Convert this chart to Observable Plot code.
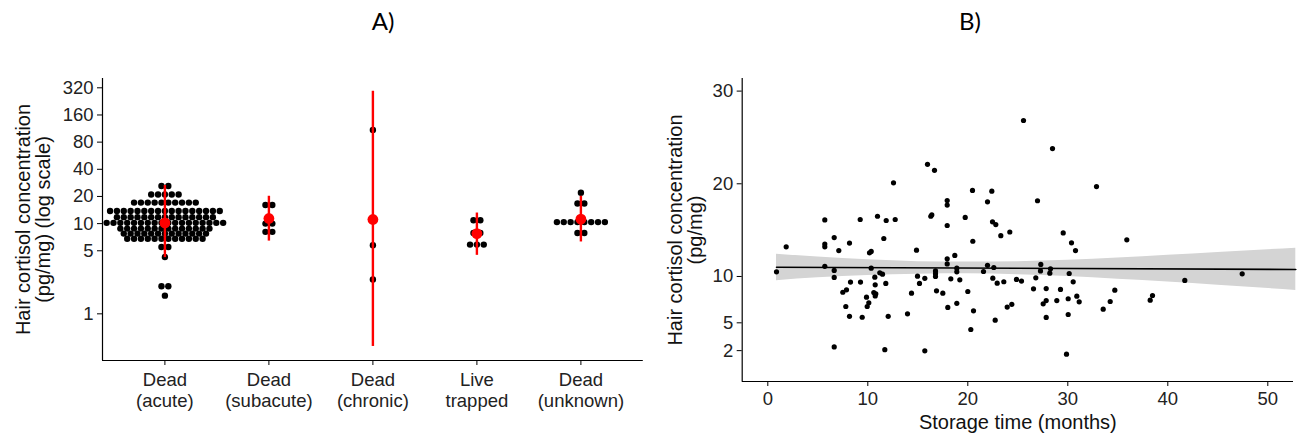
<!DOCTYPE html>
<html><head><meta charset="utf-8">
<script src="https://cdn.jsdelivr.net/npm/d3@7"></script>
<script src="https://cdn.jsdelivr.net/npm/@observablehq/plot@0.6"></script>
<style>
body{margin:0;background:#fff;}
#wrap{position:relative;width:1306px;height:437px;overflow:hidden;}
.ttl{position:absolute;top:6px;font-family:Lato,"Open Sans",sans-serif;font-size:24px;color:#000;transform:translateX(-50%);}
#pa{position:absolute;left:0;top:0}
#pb{position:absolute;left:650px;top:0}
</style></head><body>
<div id="wrap"><div class="ttl" style="left:383px">A)</div><div class="ttl" style="left:970px">B)</div><div id="pa"></div><div id="pb"></div></div>
<script>
// ---------- Panel A data ----------
const groups = ["Dead\n(acute)", "Dead\n(subacute)", "Dead\n(chronic)", "Live\ntrapped", "Dead\n(unknown)"];
// binned dot values [value (pg/mg), number of dots in the bin]
const acuteBins = [[26.1,2],[21.0,5],[17.1,10],[13.8,17],[11.8,15],[10.2,18],[8.8,14],[7.75,13],[6.8,12],[5.5,2],[4.26,1],[2.02,2],[1.59,1]];
const subacuteBins = [[16.1,2],[10.0,2],[8.1,2]];
const chronicBins = [[109,1],[5.75,1],[2.4,1]];
const liveBins = [[10.9,2],[7.87,2],[5.85,3]];
const unknownBins = [[22,1],[16.7,2],[10.4,8],[7.87,2]];
const groupMean = [10.2, 11.4, 11.1, 7.75, 11.2];
const groupLower = [4.2, 6.4, 0.435, 4.45, 6.26];
const groupUpper = [26.5, 20.1, 293, 13.1, 20.1];
const yTicksA = [1, 5, 10, 20, 40, 80, 160, 320];

// ---------- Panel B data ----------
const storageMonths = [0.87,1.84,5.7,5.7,5.7,5.7,6.64,7.1,6.64,6.64,6.64,8.17,7.5,7.87,8.27,7.8,8.17,9.24,9.27,9.44,9.87,9.94,10.1,10.17,10.34,10.34,10.7,10.74,10.6,10.8,10.74,10.97,11.6,11.2,11.47,11.8,11.84,12.04,11.7,12.57,12.74,13.97,14.37,14.87,14.97,15.17,15.7,15.7,15.97,16.67,16.4,16.3,16.77,16.77,16.77,16.87,17.5,17.94,17.94,17.94,17.94,17.94,18.0,18.3,18.7,18.9,18.9,18.9,19.2,19.74,20.0,20.3,20.47,20.5,20.57,21.57,21.97,21.97,22.4,22.47,22.8,22.6,22.5,22.94,22.74,23.3,23.6,24.2,23.94,24.4,24.87,25.37,25.57,26.57,26.8,26.97,27.3,27.27,28.27,28.2,28.47,27.84,27.54,27.84,27.84,28.9,29.27,29.54,30.14,30.04,30.04,29.87,30.37,30.77,30.54,30.9,31.14,32.87,33.54,34.24,34.7,35.9,38.24,38.47,41.7,47.44];
const cortisolB = [10.5,13.2,16.1,13.5,13.2,11.1,14.2,12.8,10.65,9.9,2.4,13.6,8.3,8.56,9.4,6.76,5.7,16.15,9.4,5.6,7.77,6.76,7.16,12.55,12.7,10.9,9.93,9.1,8.27,8.13,7.9,16.5,14.1,10.4,10.25,9.25,16.04,5.7,2.1,20.1,16.15,5.97,8.2,12.84,10.03,9.25,9.8,1.98,22.1,21.45,16.65,16.5,10.6,10.3,10.0,8.45,8.2,18.2,17.7,15.5,11.9,11.35,6.66,9.75,12.27,10.9,10.5,7.1,9.64,16.37,8.38,4.28,19.28,13.8,6.3,10.54,18.05,11.2,19.2,15.9,15.6,10.97,9.82,9.28,5.29,14.4,9.43,14.8,6.7,7.0,9.68,9.5,26.83,8.67,9.86,18.17,11.3,10.6,10.83,10.36,23.8,8.7,7.05,7.4,5.58,7.4,8.6,14.7,10.32,7.6,5.9,1.62,13.63,12.8,9.42,7.88,7.27,19.7,6.47,7.3,8.52,13.96,7.44,7.95,9.57,10.29];
const fitX = [0.87, 52.8];
const fitY = [11.0, 10.76];
const bandX  = [0.87, 5, 10, 15, 20, 25, 30, 35, 40, 45, 52.8];
const bandHi = [12.4, 12.1, 11.8, 11.6, 11.55, 11.6, 11.75, 12.0, 12.3, 12.6, 13.05];
const bandLo = [9.55, 9.85, 10.1, 10.25, 10.3, 10.2, 10.0, 9.7, 9.4, 9.05, 8.5];
const xTicksB = [0, 10, 20, 30, 40, 50];
const yTicksB = [2, 5, 10, 20, 30];

// ---------- build tables ----------
const binsByGroup = [acuteBins, subacuteBins, chronicBins, liveBins, unknownBins];
const dotsA = [];
binsByGroup.forEach((bins, gi) => bins.forEach(([v, n]) => {
  for (let k = 0; k < n; k++) dotsA.push({g: gi + 1, slot: k - (n - 1) / 2, v});
}));
const statsA = groups.map((name, i) => ({g: i + 1, mean: groupMean[i], lo: groupLower[i], hi: groupUpper[i]}));
const slotStep = 0.0659; // dot spacing in category units
const xDomA = [0.4, 5.6];
const yDomA = [0.304, 405.8];

const font = "'Liberation Sans', Arial, sans-serif";

const A = Plot.plot({
  width: 660, height: 437,
  marginLeft: 102, marginRight: 17.2, marginTop: 78, marginBottom: 77,
  style: {fontFamily: font, fontSize: "18.5px", color: "#222", background: "transparent"},
  x: {domain: xDomA},
  y: {type: "log", domain: yDomA},
  marks: [
    Plot.axisY(yTicksA, {text: d => String(d), tickSize: 5, tickPadding: 4, label: null, stroke: "#000"}),
    Plot.axisX([1, 2, 3, 4, 5], {text: i => groups[i - 1], tickSize: 5, tickPadding: 5, label: null, lineHeight: 1.15, stroke: "#000"}),
    Plot.ruleX([xDomA[0]], {stroke: "#000", strokeWidth: 1.2}),
    Plot.ruleY([yDomA[0]], {stroke: "#000", strokeWidth: 1.2}),
    Plot.dot(dotsA, {x: d => d.g + d.slot * slotStep, y: "v", r: 3.2, fill: "#000", stroke: "none"}),
    Plot.ruleX(statsA, {x: "g", y1: "lo", y2: "hi", stroke: "#ff0000", strokeWidth: 2.4}),
    Plot.dot(statsA, {x: "g", y: "mean", r: 5.4, fill: "#ff0000", stroke: "none"}),
    Plot.text(["Hair cortisol concentration\n(pg/mg) (log scale)"], {text: d => d, frameAnchor: "left", textAnchor: "middle", lineAnchor: "middle", rotate: -90, dx: -69, fontSize: 20, lineHeight: 1.0, fill: "#111"})
  ]
});
document.getElementById("pa").appendChild(A);

const pointsB = storageMonths.map((m, i) => ({m, c: cortisolB[i]}));
const fit = fitX.map((x, i) => ({x, y: fitY[i]}));
const band = bandX.map((x, i) => ({x, lo: bandLo[i], hi: bandHi[i]}));
const xDomB = [-2.56, 52.57];
const yDomB = [-1.33, 31.36];

const B = Plot.plot({
  width: 656, height: 437,
  marginLeft: 91.7, marginRight: 13, marginTop: 78, marginBottom: 56,
  style: {fontFamily: font, fontSize: "18.5px", color: "#222", background: "transparent"},
  x: {domain: xDomB},
  y: {domain: yDomB},
  marks: [
    Plot.areaY(band, {x: "x", y1: "lo", y2: "hi", fill: "#d4d4d4", curve: "monotone-x"}),
    Plot.line(fit, {x: "x", y: "y", stroke: "#000", strokeWidth: 1.6}),
    Plot.dot(pointsB, {x: "m", y: "c", r: 2.6, fill: "#000", stroke: "none"}),
    Plot.axisY(yTicksB, {text: d => String(d), tickSize: 5, tickPadding: 4, label: null, stroke: "#000"}),
    Plot.axisX(xTicksB, {text: d => String(d), tickSize: 5, tickPadding: 5, label: null, stroke: "#000"}),
    Plot.ruleX([xDomB[0]], {stroke: "#000", strokeWidth: 1.2}),
    Plot.ruleY([yDomB[0]], {stroke: "#000", strokeWidth: 1.2}),
    Plot.text(["Hair cortisol concentration\n(pg/mg)"], {text: d => d, frameAnchor: "left", textAnchor: "middle", lineAnchor: "middle", rotate: -90, dx: -56.7, fontSize: 20, lineHeight: 1.0, fill: "#111"}),
    Plot.text(["Storage time (months)"], {text: d => d, frameAnchor: "bottom", dy: 47, fontSize: 20, fill: "#111"})
  ]
});
document.getElementById("pb").appendChild(B);
</script>
</body></html>
